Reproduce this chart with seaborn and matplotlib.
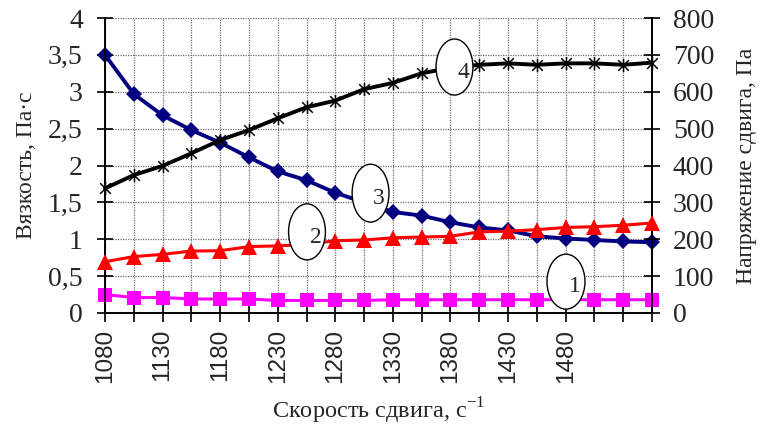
import matplotlib
matplotlib.use("Agg")
import matplotlib.pyplot as plt
from matplotlib.patches import Ellipse
from matplotlib.path import Path
from matplotlib.ticker import MultipleLocator, FuncFormatter, FixedLocator
import seaborn as sns
import pandas as pd

# Shear rate, 1/s
shear_rate = [1080, 1105, 1130, 1155, 1180, 1205, 1230, 1255, 1280, 1305,
              1330, 1355, 1380, 1405, 1430, 1455, 1480, 1505, 1530, 1555]
x_tick_values = [1080, 1130, 1180, 1230, 1280, 1330, 1380, 1430, 1480]
x_tick_labels = ["1080", "1130", "1180", "1230", "1280", "1330", "1380", "1430", "1480"]

# Curve 1: viscosity, Pa*s (left axis)
viscosity_1 = [0.25, 0.21, 0.21, 0.19, 0.19, 0.19, 0.17, 0.17, 0.17, 0.17,
               0.18, 0.18, 0.18, 0.18, 0.18, 0.18, 0.18, 0.18, 0.18, 0.18]
# Curve 2: shear stress, Pa (right axis)
stress_2 = [139, 153, 159, 168, 169, 180, 182, 186, 196, 198,
            204, 206, 208, 220, 222, 226, 232, 234, 238, 244]
# Curve 3: viscosity, Pa*s (left axis)
viscosity_3 = [3.50, 2.97, 2.68, 2.48, 2.31, 2.11, 1.92, 1.80, 1.63, 1.50,
               1.37, 1.32, 1.23, 1.16, 1.12, 1.04, 1.01, 0.99, 0.97, 0.96]
# Curve 4: shear stress, Pa (right axis)
stress_4 = [338, 374, 399, 433, 469, 496, 528, 558, 576, 607,
            624, 650, 665, 673, 677, 673, 677, 677, 673, 679]

df = pd.DataFrame({
    "shear": shear_rate,
    "v1": viscosity_1,
    "s2": stress_2,
    "v3": viscosity_3,
    "s4": stress_4,
})

sns.set_theme(style="white")
serif = ["Liberation Serif", "DejaVu Serif"]
sans = ["Liberation Sans", "DejaVu Sans"]
plt.rcParams["font.family"] = serif
plt.rcParams["mathtext.fontset"] = "custom"
plt.rcParams["mathtext.rm"] = "Liberation Serif"

fig = plt.figure(figsize=(7.64, 4.30), dpi=100)
ax = fig.add_axes([105 / 764, 1 - 313 / 430, (652 - 105) / 764, (313 - 18) / 430])
ax2 = ax.twinx()

# Excel-style star marker: an X crossed by a vertical bar
star = Path([(-1, -1), (1, 1), (-1, 1), (1, -1), (0, -1.25), (0, 1.25)],
            [Path.MOVETO, Path.LINETO] * 3)

sns.lineplot(data=df, x="shear", y="v1", ax=ax, color="#FF00FF", lw=2.2,
             marker="s", markersize=10, markeredgewidth=0, clip_on=False, zorder=3)
sns.lineplot(data=df, x="shear", y="v3", ax=ax, color="#000080", lw=2.8,
             marker="D", markersize=8.5, markeredgewidth=0, clip_on=False, zorder=4)
sns.lineplot(data=df, x="shear", y="s2", ax=ax2, color="#FF0000", lw=2.2,
             marker="^", markersize=11, markeredgewidth=0, clip_on=False, zorder=3)
sns.lineplot(data=df, x="shear", y="s4", ax=ax2, color="black", lw=2.8,
             marker=star, markersize=9.5, markeredgewidth=1.1,
             markeredgecolor="black", clip_on=False, zorder=4)

# Axes limits and ticks
ax.set_xlim(shear_rate[0], shear_rate[-1])
ax.set_ylim(0, 4)
ax2.set_ylim(0, 800)
ax.yaxis.set_major_locator(MultipleLocator(0.5))
ax2.yaxis.set_major_locator(MultipleLocator(100))
ax.yaxis.set_major_formatter(FuncFormatter(lambda v, p: f"{v:g}".replace(".", ",")))
ax2.yaxis.set_major_formatter(FuncFormatter(lambda v, p: f"{v:g}"))
ax.xaxis.set_major_locator(FixedLocator(x_tick_values))
ax.set_xticklabels(x_tick_labels, rotation=90, fontfamily=sans, fontsize=17.5)
ax.xaxis.set_minor_locator(FixedLocator(shear_rate))

for a in (ax, ax2):
    a.tick_params(axis="y", which="major", direction="inout", length=12, width=1.2,
                  labelsize=20, color="black")
ax.tick_params(axis="x", which="both", direction="inout", length=13, width=1.2,
               color="black", pad=5, bottom=True)
ax.tick_params(axis="y", pad=10, left=True)
ax2.tick_params(axis="y", pad=9, right=True)

# Dotted grid on every category and every major value
ax.grid(False)
ax2.grid(False)
ax.xaxis.grid(True, which="both", color="#6e6e6e", linestyle=(0, (1, 1)), lw=0.9)
ax.yaxis.grid(True, which="major", color="#6e6e6e", linestyle=(0, (1, 1)), lw=0.9)
ax.set_axisbelow(True)

for a in (ax, ax2):
    a.spines["top"].set_visible(False)
    for s in ("left", "right", "bottom"):
        a.spines[s].set_color("black")
        a.spines[s].set_linewidth(1.2)

ax.set_xlabel("Скорость сдвига, с$^{\\mathregular{-1}}$", fontsize=17.5, labelpad=9)
ax.set_ylabel("Вязкость, Па·с", fontsize=17, labelpad=8)
ax2.set_ylabel("Напряжение сдвига, Па", fontsize=17, labelpad=16)

# Curve numbers in ellipses
callouts = [
    ("1", 1480.3, 85, 33, 149),
    ("2", 1255.4, 220, 32, 152),
    ("3", 1310.6, 325, 32, 157),
    ("4", 1383.5, 667, 32, 152),
]
for label, cx, cy, w, h in callouts:
    ax2.add_patch(Ellipse((cx, cy), w, h, facecolor="white", edgecolor="black",
                          lw=1.0, zorder=10, clip_on=False))
    ax2.text(cx + 7.5, cy - 14, label, fontsize=17, ha="center", va="center",
             zorder=11)

fig.savefig("out.png", dpi=100)
